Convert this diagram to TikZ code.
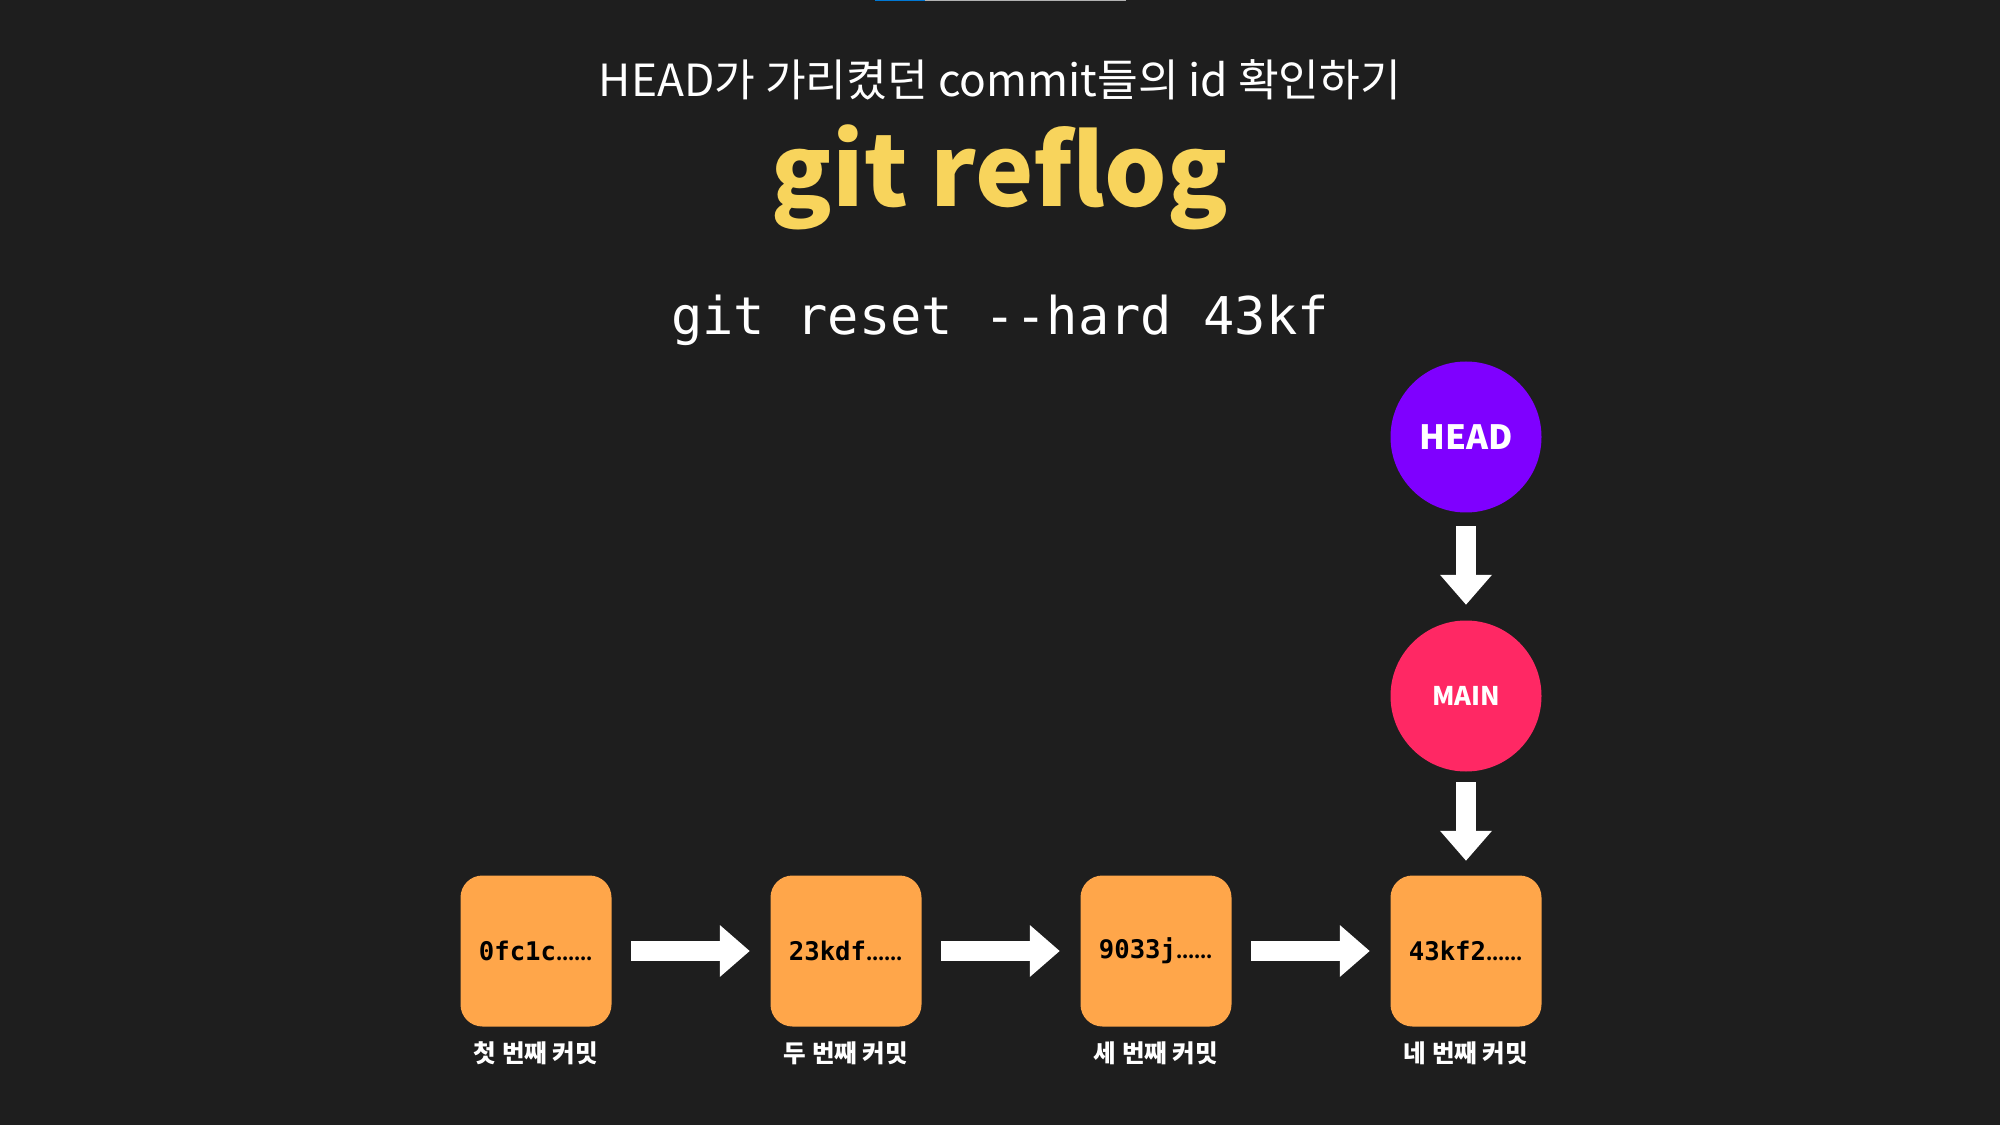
\documentclass[tikz,border=0pt]{standalone}
\usepackage{fontspec}
\setmainfont{Noto Sans CJK KR}
\setmonofont{DejaVu Sans Mono}
\usepackage{xcolor}
\usepackage{tikz}
\usetikzlibrary{arrows.meta,positioning}
\definecolor{slate}{RGB}{30,30,30}
\definecolor{commitorange}{RGB}{255,166,74}
\definecolor{headviolet}{RGB}{127,0,255}
\definecolor{mainpink}{RGB}{255,40,100}
\definecolor{titleyellow}{RGB}{248,212,92}
\definecolor{stripblue}{RGB}{0,120,212}

\begin{document}
\begin{tikzpicture}[
    commit/.style={fill=commitorange,rounded corners=0.22cm,minimum size=1.51cm,inner sep=0pt,
                   font=\fontsize{7.3}{8}\selectfont\bfseries},
    ref/.style={circle,minimum size=1.51cm,inner sep=0pt,text=white},
    caption/.style={text=white,inner sep=0pt,font=\fontsize{7}{8}\selectfont\bfseries},
    fat/.style={-{Triangle[length=0.3cm,width=0.5cm]},white,line width=0.2cm,
                shorten <=0.19cm,shorten >=0.2cm}]
  \fill[slate] (0,0) rectangle (20,11.25);
  \useasboundingbox (0,0) rectangle (20,11.25);
  % thin strip at the top edge
  \fill[stripblue] (8.75,11.235) rectangle (9.25,11.25);
  \fill[gray!60] (9.25,11.235) rectangle (11.26,11.25);

  \node[anchor=base,text=white,font=\fontsize{12.6}{14}\selectfont] (sub) at (10,10.28)
    {HEAD가 가리켰던 commit들의 id 확인하기};
  \node[anchor=base,text=titleyellow,font=\fontsize{28}{32}\selectfont\bfseries] (cmd) at (10,9.18) {git reflog};
  \node[anchor=base,text=white,font=\fontsize{14.8}{17}\selectfont\ttfamily] (reset) at (10,7.90) {git reset -{}-hard 43kf};

  \node[ref,fill=headviolet,font=\fontsize{9.5}{11}\selectfont\bfseries] (head) at (14.66,6.88) {HEAD};
  \node[ref,fill=mainpink,font=\fontsize{7.3}{9}\selectfont\bfseries] (main) at (14.66,4.29) {MAIN};

  \node[commit] (c1) at (5.36,1.74)  {{\ttfamily 0fc1c}{\fontsize{5}{6}\selectfont......}};
  \node[commit] (c2) at (8.46,1.74)  {{\ttfamily 23kdf}{\fontsize{5}{6}\selectfont......}};
  \node[commit] (c3) at (11.56,1.74) {{\ttfamily 9033j}{\fontsize{5}{6}\selectfont......}};
  \node[commit] (c4) at (14.66,1.74) {{\ttfamily 43kf2}{\fontsize{5}{6}\selectfont......}};
  \node[caption,below=0.14cm of c1] (n1) {첫 번째 커밋};
  \node[caption,below=0.14cm of c2] (n2) {두 번째 커밋};
  \node[caption,below=0.14cm of c3] (n3) {세 번째 커밋};
  \node[caption,below=0.14cm of c4] (n4) {네 번째 커밋};

  \draw[fat] (c1) -- (c2); \draw[fat] (c2) -- (c3); \draw[fat] (c3) -- (c4);
  \draw[fat,shorten <=0.13cm,shorten >=0.15cm] (head) -- (main);
  \draw[fat,shorten <=0.10cm,shorten >=0.14cm] (main) -- (c4);
\end{tikzpicture}
\end{document}
